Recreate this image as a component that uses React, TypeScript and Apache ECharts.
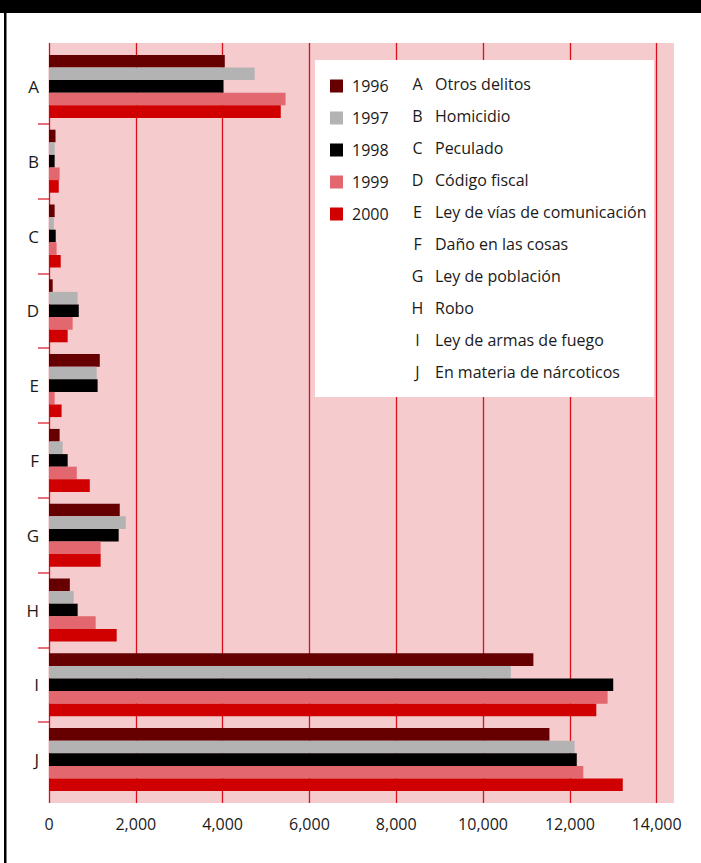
import React, { useEffect, useRef } from "react";
import * as echarts from "echarts";

const categories = ["A", "B", "C", "D", "E", "F", "G", "H", "I", "J"];
const crimeNames = [
  "Otros delitos",
  "Homicidio",
  "Peculado",
  "Código fiscal",
  "Ley de vías de comunicación",
  "Daño en las cosas",
  "Ley de población",
  "Robo",
  "Ley de armas de fuego",
  "En materia de nárcoticos",
];
const years = ["1996", "1997", "1998", "1999", "2000"];
const v1996 = [4050, 150, 130, 85, 1170, 245, 1630, 480, 11160, 11530];
const v1997 = [4740, 130, 110, 660, 1100, 315, 1770, 570, 10640, 12110];
const v1998 = [4020, 130, 155, 685, 1120, 430, 1605, 660, 13000, 12160];
const v1999 = [5450, 245, 175, 545, 130, 640, 1190, 1075, 12870, 12310];
const v2000 = [5340, 225, 270, 430, 290, 940, 1190, 1560, 12610, 13220];
const seriesValues = [v1996, v1997, v1998, v1999, v2000];
const xTicks = { min: 0, max: 14400, interval: 2000 };

const colors = ["#660000", "#b3b3b3", "#000000", "#e2676e", "#d00000"];
const FONT = "Open Sans";
const TEXT = "#1a1a1a";
const GRID_RED = "#d8101c";

export default function App() {
  const ref = useRef<HTMLDivElement>(null);
  useEffect(() => {
    if (!ref.current) return;
    const chart = echarts.init(ref.current, null, { renderer: "svg" });
    const legendTexts: any[] = [];
    categories.forEach((c, i) => {
      legendTexts.push({
        type: "text",
        x: 417.5,
        y: 84 + i * 32,
        z: 20,
        style: { text: c, fontSize: 16, fontFamily: FONT, fill: TEXT, align: "center", verticalAlign: "middle" },
      });
      legendTexts.push({
        type: "text",
        x: 435,
        y: 84 + i * 32,
        z: 20,
        style: { text: crimeNames[i], fontSize: 16, fontFamily: FONT, fill: TEXT, align: "left", verticalAlign: "middle" },
      });
    });
    chart.setOption({
      animation: false,
      backgroundColor: "#ffffff",
      textStyle: { fontFamily: FONT },
      grid: [
        { left: 49, top: 43, width: 625, height: 760, show: true, backgroundColor: "#f6cbce", borderWidth: 0, z: 0 },
        { left: 49, top: 49, width: 625, height: 748 },
        { left: 38, top: 49, width: 11, height: 748 },
      ],
      xAxis: [
        {
          type: "value",
          gridIndex: 0,
          min: xTicks.min,
          max: xTicks.max,
          interval: xTicks.interval,
          axisLine: { show: false },
          axisTick: { show: false },
          axisLabel: { fontSize: 16, color: TEXT, margin: 13, showMaxLabel: false, fontFamily: FONT },
          splitLine: { show: true, showMaxLine: false, lineStyle: { color: GRID_RED, width: 1.3 } },
        },
        { type: "value", gridIndex: 1, min: xTicks.min, max: xTicks.max, show: false },
        { type: "value", gridIndex: 2, show: false },
      ],
      yAxis: [
        { type: "value", gridIndex: 0, min: 0, max: 1, show: false },
        {
          type: "category",
          gridIndex: 1,
          data: categories,
          inverse: true,
          axisLine: { show: false },
          axisTick: { show: false },
          axisLabel: { fontSize: 17, color: TEXT, margin: 10, fontFamily: FONT, padding: [0, 0, 3, 0] },
        },
        {
          type: "value",
          gridIndex: 2,
          min: 0,
          max: categories.length,
          interval: 1,
          inverse: true,
          axisLine: { show: false },
          axisTick: { show: false },
          axisLabel: { show: false },
          splitLine: { show: true, showMinLine: false, showMaxLine: false, lineStyle: { color: "#e0404c", width: 1.5 } },
        },
      ],
      legend: {
        orient: "vertical",
        left: 330,
        top: 78,
        padding: 0,
        itemWidth: 13,
        itemHeight: 13,
        itemGap: 16,
        icon: "rect",
        data: years,
        textStyle: { fontSize: 16, color: TEXT, lineHeight: 16, padding: [0, 0, 0, 4], fontFamily: FONT },
        z: 10,
      },
      graphic: [
        { type: "rect", shape: { x: 0, y: 0, width: 701, height: 13 }, style: { fill: "#000" }, z: 100 },
        { type: "rect", shape: { x: 4, y: 13, width: 2.5, height: 850 }, style: { fill: "#000" }, z: 100 },
        { type: "rect", shape: { x: 315, y: 60, width: 339, height: 337 }, style: { fill: "#fff" }, z: 5 },
        ...legendTexts,
      ],
      series: years.map((y, i) => ({
        name: y,
        type: "bar",
        xAxisIndex: 1,
        yAxisIndex: 1,
        data: seriesValues[i],
        itemStyle: { color: colors[i] },
        barGap: "0%",
        barCategoryGap: "15.8%",
        z: 2,
      })),
    });
    return () => chart.dispose();
  }, []);
  return <div ref={ref} style={{ position: "absolute", left: 0, top: 0, width: 701, height: 863 }} />;
}
